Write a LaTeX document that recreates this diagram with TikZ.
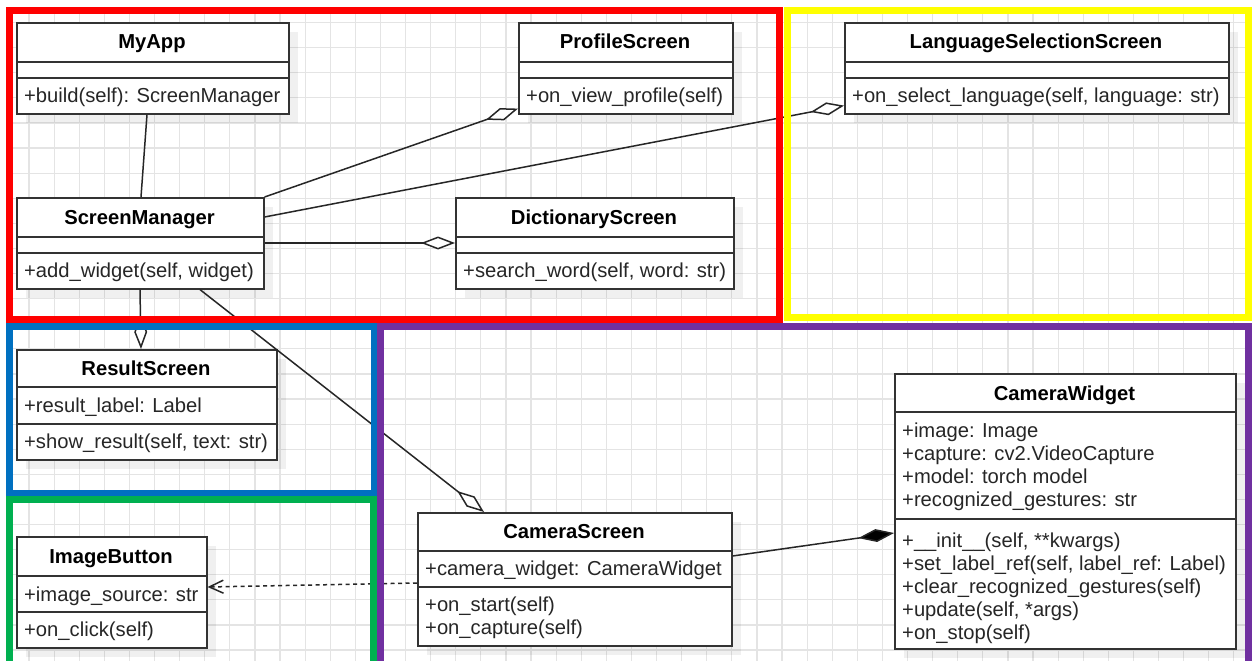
\documentclass[tikz,border=0pt]{standalone}
\usepackage{fontspec}
\setmainfont{Liberation Sans}
\usetikzlibrary{arrows.meta,calc,shadows}

\definecolor{boxline}{HTML}{333333}
\definecolor{txt}{HTML}{262626}
\definecolor{fred}{HTML}{FF0000}
\definecolor{fyellow}{HTML}{FFFF00}
\definecolor{fblue}{HTML}{0070C0}
\definecolor{fgreen}{HTML}{00B050}
\definecolor{fpurple}{HTML}{7030A0}
\definecolor{gridc}{HTML}{E4E4E4}

\tikzset{
  gridline/.style={draw=gridc, line width=1.2pt},
  classbox/.style={draw=boxline, line width=1.6pt, fill=white, inner sep=0pt,
    anchor=north west,
    drop shadow={shadow xshift=9pt, shadow yshift=-9pt, fill=black, opacity=0.06}},
  sepline/.style={draw=boxline, line width=1.6pt},
  titletext/.style={anchor=base, inner sep=0pt, font=\fontsize{20.2}{23}\selectfont\bfseries, text=black},
  rowtext/.style={anchor=base west, inner sep=0pt, font=\fontsize{20.2}{23}\selectfont, text=txt},
  conn/.style={draw=black!85, line width=1.5pt},
  assoc/.style={conn},
  aggr/.style={conn, -{Diamond[length=34pt, width=13pt, fill=white]}},
  compo/.style={conn, -{Diamond[length=36pt, width=13pt, fill=black]}},
  depend/.style={conn, dash pattern=on 4pt off 3.5pt, -{Straight Barb[length=14pt, width=13pt]}},
  frame/.style={line width=7pt, line join=miter},
}

% class box: name, left, top, width, height, first separator, second separator
\newcommand\umlclass[7]{%
  \node[classbox, minimum width=#4pt, minimum height=#5pt] (#1) at (#2,#3) {};
  \draw[sepline] ([yshift=-#6pt]#1.north west) -- ([yshift=-#6pt]#1.north east);
  \draw[sepline] ([yshift=-#7pt]#1.north west) -- ([yshift=-#7pt]#1.north east);
}

\begin{document}
\begin{tikzpicture}[x=1pt, y=-1pt]
\useasboundingbox (0,0) rectangle (1254,661);
\fill[white] (0,0) rectangle (1254,661);

% background grid
\foreach \k in {1,...,49} {
  \draw[gridline] ({3.9+25.1*\k},7) -- ({3.9+25.1*\k},661);
}
\foreach \k in {0,...,25} {
  \draw[gridline] (6,{22.5+25.1*\k}) -- (1252,{22.5+25.1*\k});
}

% ---------- classes ----------
\umlclass{myapp}{16}{22}{272}{91}{40}{56}
\node[titletext] (myapp-t) at (152,49) {MyApp};
\node[rowtext] (myapp-m1) at (24,102.5) {+build(self): ScreenManager};

\umlclass{profile}{518}{22}{214}{91}{40}{56}
\node[titletext] (profile-t) at (625,49) {ProfileScreen};
\node[rowtext] (profile-m1) at (526,102.5) {+on\_view\_profile(self)};

\umlclass{lang}{844}{22}{384}{91}{40}{56}
\node[titletext] (lang-t) at (1036,49) {LanguageSelectionScreen};
\node[rowtext] (lang-m1) at (852,102.5) {+on\_select\_language(self, language: str)};

\umlclass{sm}{16}{197}{247}{91}{40}{56}
\node[titletext] (sm-t) at (139.5,224) {ScreenManager};
\node[rowtext] (sm-m1) at (24,277.5) {+add\_widget(self, widget)};

\umlclass{dict}{455}{197}{278}{91}{40}{56}
\node[titletext] (dict-t) at (594,224) {DictionaryScreen};
\node[rowtext] (dict-m1) at (463,277.5) {+search\_word(self, word: str)};

\umlclass{result}{16}{349}{260}{110}{38}{75}
\node[titletext] (result-t) at (146,375) {ResultScreen};
\node[rowtext] (result-a1) at (24,412.5) {+result\_label: Label};
\node[rowtext] (result-m1) at (24,448.5) {+show\_result(self, text: str)};

\umlclass{imgbtn}{16}{536}{190}{111}{40}{76}
\node[titletext] (imgbtn-t) at (111,563) {ImageButton};
\node[rowtext] (imgbtn-a1) at (24,601) {+image\_source: str};
\node[rowtext] (imgbtn-m1) at (24,636.5) {+on\_click(self)};

\umlclass{cam}{417}{512}{314}{133}{39}{75}
\node[titletext] (cam-t) at (574,538.5) {CameraScreen};
\node[rowtext] (cam-a1) at (425,575.5) {+camera\_widget: CameraWidget};
\node[rowtext] (cam-m1) at (425,611.5) {+on\_start(self)};
\node[rowtext] (cam-m2) at (425,634) {+on\_capture(self)};

\umlclass{cw}{894}{373}{341}{275}{39}{146}
\node[titletext] (cw-t) at (1064.5,400) {CameraWidget};
\node[rowtext] (cw-a1) at (902,437) {+image: Image};
\node[rowtext] (cw-a2) at (902,460) {+capture: cv2.VideoCapture};
\node[rowtext] (cw-a3) at (902,483) {+model: torch model};
\node[rowtext] (cw-a4) at (902,506) {+recognized\_gestures: str};
\node[rowtext] (cw-m1) at (902,547) {+\_\_init\_\_(self, **kwargs)};
\node[rowtext] (cw-m2) at (902,570) {+set\_label\_ref(self, label\_ref: Label)};
\node[rowtext] (cw-m3) at (902,593) {+clear\_recognized\_gestures(self)};
\node[rowtext] (cw-m4) at (902,616) {+update(self, *args)};
\node[rowtext] (cw-m5) at (902,639) {+on\_stop(self)};

% ---------- relations ----------
\draw[assoc] ([xshift=131pt]myapp.south west) -- ([xshift=125pt]sm.north west);
\draw[aggr] (sm.north east) -- ([yshift=6pt]profile.south west);
\draw[aggr] ([yshift=-20pt]sm.north east) -- ([yshift=9pt]lang.south west);
\draw[aggr] ([yshift=-46pt]sm.north east) -- ([yshift=-46pt]dict.north west);
\draw[aggr] ([xshift=124pt]sm.south west) -- ([xshift=125pt]result.north west);
\draw[aggr] ([xshift=184pt]sm.south west) -- ([xshift=67pt]cam.north west);
\draw[depend] ([yshift=-71pt]cam.north west) -- ([yshift=-51pt]imgbtn.north east);
\draw[compo] ([yshift=-44pt]cam.north east) -- ([yshift=-160pt]cw.north west);

% ---------- coloured group frames ----------
\draw[frame, fred] (9.5,10.5) rectangle (779.5,319);
\draw[frame, fyellow] (787,10.75) rectangle (1248,317);
\draw[frame, fblue] (9.5,326) rectangle (374,493.5);
\draw[frame, fgreen] (9.5,499) rectangle (373.5,664);
\draw[frame, fpurple] (380,326) rectangle (1248.5,664);
\end{tikzpicture}
\end{document}
